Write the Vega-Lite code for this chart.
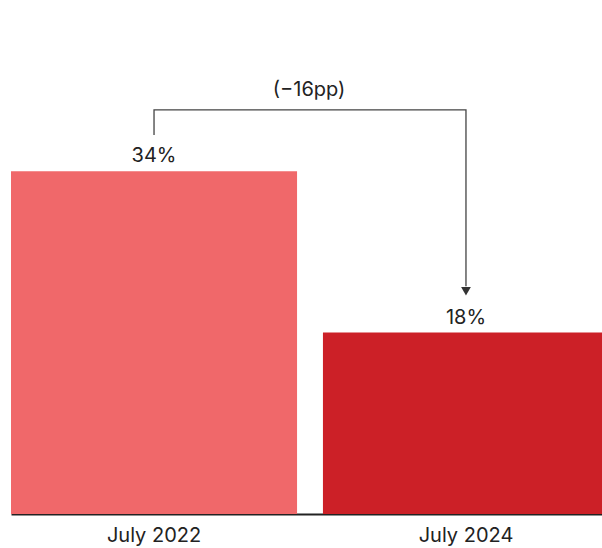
{
  "$schema": "https://vega.github.io/schema/vega-lite/v6.json",
  "width": 591,
  "height": 514,
  "autosize": "none",
  "padding": {"left": 11, "top": 0, "right": 0, "bottom": 34},
  "config": {
    "view": {"stroke": null},
    "font": "Inter",
    "text": {"font": "Inter"}
  },
  "datasets": {
    "bars": [
      {"period": "July 2022", "value": 34, "label": "34%"},
      {"period": "July 2024", "value": 18, "label": "18%"}
    ],
    "bracket": [
      {"period": "July 2022", "y": 37.6, "order": 1},
      {"period": "July 2022", "y": 40.1, "order": 2},
      {"period": "July 2024", "y": 40.1, "order": 3},
      {"period": "July 2024", "y": 22.6, "order": 4}
    ],
    "arrow": [{"period": "July 2024", "y": 22.1}],
    "note": [{"period": "July 2022", "y": 42.1, "text": "(−16pp)"}]
  },
  "encoding": {
    "x": {
      "field": "period",
      "type": "nominal",
      "sort": ["July 2022", "July 2024"],
      "scale": {"type": "band", "paddingInner": 0.083, "paddingOuter": 0, "range": [0, 598]},
      "axis": {
        "title": null,
        "labelAngle": 0,
        "ticks": false,
        "domainColor": "#222222",
        "domainWidth": 2,
        "labelFont": "Inter",
        "labelFontSize": 20,
        "labelColor": "#222222",
        "labelPadding": 11
      }
    }
  },
  "layer": [
    {
      "data": {"name": "bars"},
      "mark": {"type": "bar"},
      "encoding": {
        "y": {"field": "value", "type": "quantitative", "scale": {"domain": [0, 51], "nice": false}, "axis": null},
        "color": {
          "field": "period",
          "type": "nominal",
          "scale": {"domain": ["July 2022", "July 2024"], "range": ["#F0686A", "#CC2027"]},
          "legend": null
        }
      }
    },
    {
      "data": {"name": "bars"},
      "mark": {"type": "text", "baseline": "alphabetic", "dy": -9, "fontSize": 20, "color": "#222222"},
      "encoding": {
        "y": {"field": "value", "type": "quantitative"},
        "text": {"field": "label"}
      }
    },
    {
      "data": {"name": "bracket"},
      "mark": {"type": "line", "color": "#444444", "strokeWidth": 1.3},
      "encoding": {
        "y": {"field": "y", "type": "quantitative"},
        "order": {"field": "order", "type": "quantitative"}
      }
    },
    {
      "data": {"name": "arrow"},
      "mark": {"type": "point", "shape": "triangle-down", "filled": true, "color": "#333333", "size": 95, "opacity": 1},
      "encoding": {
        "y": {"field": "y", "type": "quantitative"}
      }
    },
    {
      "data": {"name": "note"},
      "mark": {"type": "text", "baseline": "middle", "fontSize": 20, "color": "#222222"},
      "encoding": {
        "x": {"field": "period", "type": "nominal", "bandPosition": 1.042},
        "y": {"field": "y", "type": "quantitative"},
        "text": {"field": "text"}
      }
    }
  ]
}
